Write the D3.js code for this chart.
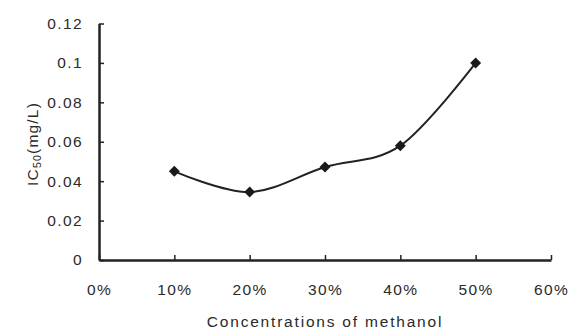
<html>
<head>
<script src="https://d3js.org/d3.v7.min.js"></script>
<style>
  body { margin: 0; background: #fff; }
  text { font-family: "Liberation Sans", Arial, sans-serif; fill: #2a2a2a; }
</style>
</head>
<body>
<svg id="chart" width="572" height="330"></svg>
<script>
const concentrations = [0.1, 0.2, 0.3, 0.4, 0.5];
const ic50 = [0.045, 0.0345, 0.0472, 0.058, 0.1];
const xTicks = [0, 0.1, 0.2, 0.3, 0.4, 0.5, 0.6];
const yTicks = [0, 0.02, 0.04, 0.06, 0.08, 0.1, 0.12];

const svg = d3.select('#chart');
const x = d3.scaleLinear().domain([0, 0.6]).range([99, 551]);
const y = d3.scaleLinear().domain([0, 0.12]).range([260, 23.5]);

// x axis, ticks pointing up
const xAxis = svg.append('g').attr('transform', 'translate(0,260)')
    .call(d3.axisBottom(x).tickValues(xTicks).tickSizeInner(-5).tickSizeOuter(0)
        .tickFormat(d => Math.round(d * 100) + '%'));
xAxis.select('.domain').attr('stroke', '#222').attr('stroke-width', 2.5);
xAxis.selectAll('.tick line').attr('stroke', '#222').attr('stroke-width', 1.5);
xAxis.selectAll('.tick text').attr('y', 24).attr('font-size', 15.5)
    .attr('letter-spacing', 1.4).attr('fill', '#2a2a2a');

// y axis, ticks pointing right
const yAxis = svg.append('g').attr('transform', 'translate(99,0)')
    .call(d3.axisLeft(y).tickValues(yTicks).tickSizeInner(-5).tickSizeOuter(0)
        .tickFormat(d => d === 0 ? '0' : String(+d.toFixed(2))));
yAxis.select('.domain').attr('stroke', '#222').attr('stroke-width', 2.5);
yAxis.selectAll('.tick line').attr('stroke', '#222').attr('stroke-width', 1.5);
yAxis.selectAll('.tick text').attr('x', -16).attr('font-size', 15.5)
    .attr('letter-spacing', 1.4).attr('fill', '#2a2a2a');

// smoothed line
const pts = concentrations.map((c, i) => [c, ic50[i]]);
svg.append('path')
    .datum(pts)
    .attr('fill', 'none')
    .attr('stroke', '#222')
    .attr('stroke-width', 2)
    .attr('d', d3.line().x(d => x(d[0])).y(d => y(d[1])).curve(d3.curveCardinal.tension(0)));

// diamond markers
svg.selectAll('.marker')
    .data(pts)
    .enter()
    .append('path')
    .attr('class', 'marker')
    .attr('d', d3.symbol().type(d3.symbolSquare).size(60))
    .attr('transform', d => `translate(${x(d[0])},${y(d[1])}) rotate(45)`)
    .attr('fill', '#1a1a1a');

// axis titles
svg.append('text')
    .attr('x', 325).attr('y', 327)
    .attr('text-anchor', 'middle')
    .attr('font-size', 15.5)
    .attr('letter-spacing', 1.8)
    .text('Concentrations of methanol');

const yl = svg.append('text')
    .attr('transform', 'translate(38,144) rotate(-90)')
    .attr('text-anchor', 'middle')
    .attr('font-size', 15.5)
    .attr('letter-spacing', 1.2);
yl.append('tspan').text('IC');
yl.append('tspan').attr('font-size', 10.5).attr('dy', 3).text('50');
yl.append('tspan').attr('dy', -3).text('(mg/L)');
</script>
</body>
</html>
